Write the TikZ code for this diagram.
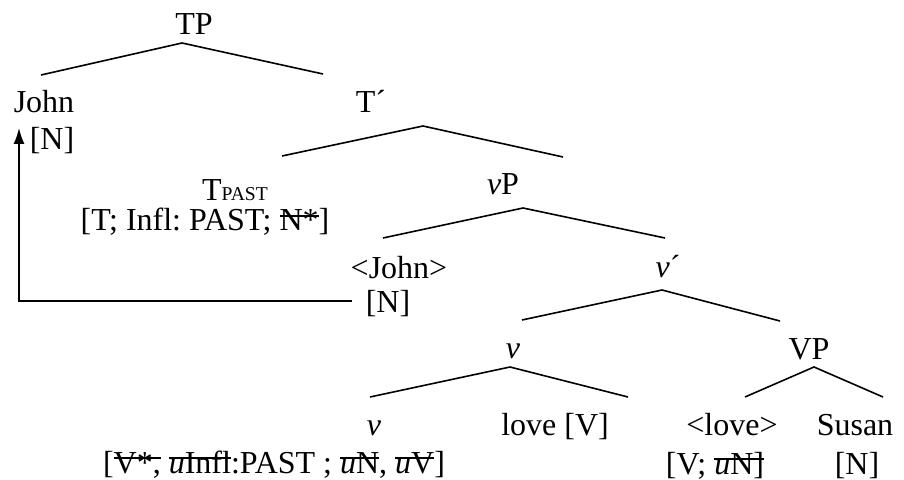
\documentclass[tikz,border=0pt]{standalone}
\usepackage{fontspec}
\setmainfont{Liberation Serif}
\usetikzlibrary{arrows.meta}
\frenchspacing
\newcommand{\strk}[1]{\setbox0\hbox{#1}\rlap{\rule[0.45em]{\wd0}{0.75pt}}\box0\relax}
\newcommand{\sml}[1]{{\fontsize{9.8}{11}\selectfont #1}}

\begin{document}
\begin{tikzpicture}[x=0.5pt,y=-0.5pt,font=\fontsize{16}{18}\selectfont,
  lbl/.style={anchor=base,inner sep=0pt},
  branch/.style={line width=0.8pt}]
\useasboundingbox (0,0) rectangle (904,480);

\node [lbl] (tp) at (194,35) {TP};
\node [lbl] (john) at (44,113) {John};
\node [lbl] (johnN) at (52,150) {[N]};
\node [lbl] (tbar) at (371,113) {T´};
\node [lbl] (tpast) at (235,201) {T\sml{PAST}};
\node [lbl] (tfeat) at (205,231) {[T; Infl: PAST; \strk{N*}]};
\node [lbl] (vp) at (503,195) {\textit{v}P};
\node [lbl] (johnT) at (399,279) {<John>};
\node [lbl] (johnTN) at (388,313) {[N]};
\node [lbl] (vbar) at (668,278) {\textit{v}´};
\node [lbl] (vsmall) at (513,358) {\textit{v}};
\node [lbl] (vpp) at (809,359) {VP};
\node [lbl] (vhead) at (374,435) {\textit{v}};
\node [lbl] (love) at (555,435) {love [V]};
\node [lbl] (lovetrace) at (732,435) {<love>};
\node [lbl] (susan) at (855,435) {Susan};
\node [lbl] (vfeat) at (274,473) {[\strk{V*,} \strk{\textit{u}Infl}:PAST ; \strk{\textit{u}N}, \strk{\textit{u}V}]};
\node [lbl] (lovefeat) at (715,474) {[V; \strk{\textit{u}N]}};
\node [lbl] (susanN) at (857,474) {[N]};

\coordinate (tpA) at (182,43);  \coordinate (tpL) at (41,75);   \coordinate (tpR) at (323,74);
\coordinate (tbA) at (423,126); \coordinate (tbL) at (282,156); \coordinate (tbR) at (563,157);
\coordinate (vpA) at (523,208); \coordinate (vpL) at (383,238); \coordinate (vpR) at (665,238);
\coordinate (vbA) at (662,290); \coordinate (vbL) at (522,320); \coordinate (vbR) at (780,321);
\coordinate (vA) at (510,367);  \coordinate (vL) at (370,397);  \coordinate (vR) at (628,397);
\coordinate (VA) at (814,367);  \coordinate (VL) at (745,397);  \coordinate (VR) at (883,397);
\coordinate (mvS) at (352,301); \coordinate (mvT) at (19,128);

\draw [branch] (tpL) -- (tpA) -- (tpR);
\draw [branch] (tbL) -- (tbA) -- (tbR);
\draw [branch] (vpL) -- (vpA) -- (vpR);
\draw [branch] (vbL) -- (vbA) -- (vbR);
\draw [branch] (vL) -- (vA) -- (vR);
\draw [branch] (VL) -- (VA) -- (VR);
\draw [branch,-{Latex[length=8pt,width=5.5pt]}] (mvS) -| (mvT);

\end{tikzpicture}
\end{document}
